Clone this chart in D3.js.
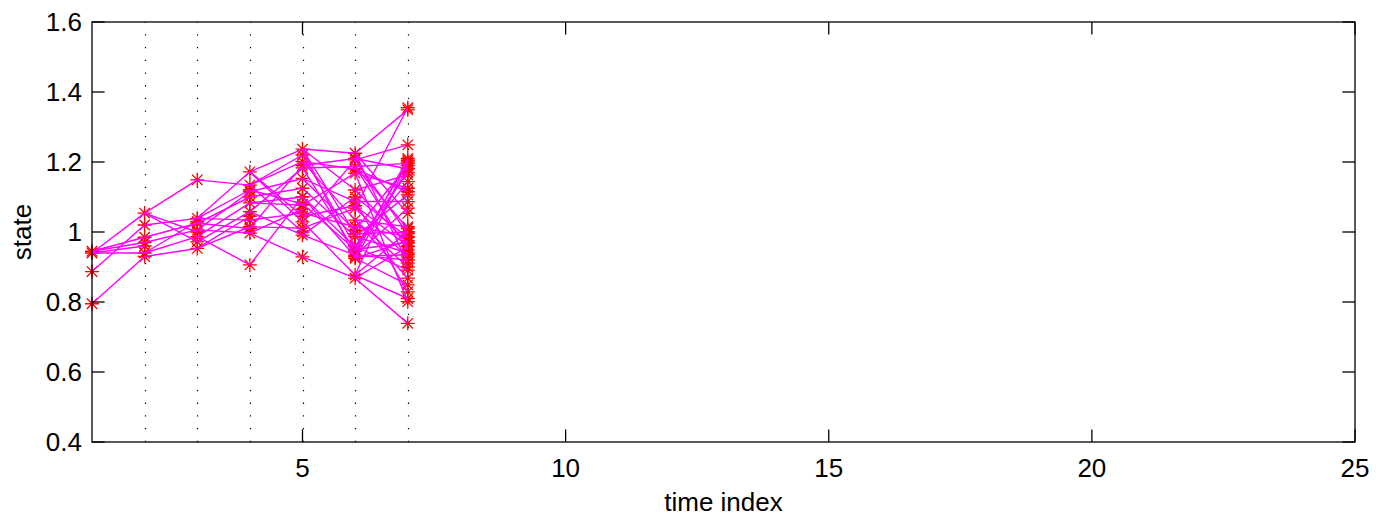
<!DOCTYPE html>
<html>
<head>
<meta charset="utf-8">
<script src="https://cdn.jsdelivr.net/npm/d3@7/dist/d3.min.js"></script>
<style>
html,body{margin:0;padding:0;background:#fff;}
svg{display:block;font-family:"Liberation Sans",Arial,sans-serif;}
</style>
</head>
<body>
<svg id="chart" width="1376" height="524"></svg>
<script>
// ---- data ----
const xTicks = [5, 10, 15, 20, 25];
const yTicks = [0.4, 0.6, 0.8, 1.0, 1.2, 1.4, 1.6];
const xLabel = "time index";
const yLabel = "state";
const guideTimes = [2, 3, 4, 5, 6, 7];

const t1Values = [0.945, 0.94, 0.887, 0.795];
const t2Values = [1.054, 1.02, 0.985, 0.97, 0.94, 0.93, 0.96];
const t2Parents = [1, 2, 0, 0, 1, 3, 1];
const t3Values = [1.149, 1.039, 1.025, 1.006, 0.987, 0.972, 0.953, 1.0, 1.03];
const t3Parents = [0, 1, 2, 3, 4, 0, 5, 0, 4];
const t4Values = [1.172, 1.134, 1.115, 1.1, 1.083, 1.058, 1.034, 1.015, 0.997, 0.906, 1.12, 1.045, 1.01];
const t4Parents = [1, 0, 3, 2, 4, 5, 1, 6, 3, 4, 1, 6, 2];
const t5Values = [1.237, 1.201, 1.183, 1.153, 1.125, 1.101, 1.077, 1.054, 1.029, 1.011, 0.991, 0.929,
                  1.22, 1.045, 1.1, 1.0, 1.065, 1.19, 1.08];
const t5Parents = [0, 1, 5, 2, 3, 9, 4, 6, 0, 7, 5, 8,
                   1, 0, 4, 1, 8, 12, 10];
const t6Values = [1.225, 1.206, 1.187, 1.168, 1.12, 1.087, 1.068, 1.034, 1.015, 0.987, 0.958, 0.934, 0.925, 0.877, 0.868,
                  1.18, 0.995, 0.945, 1.005, 1.1, 0.96, 1.075, 0.93, 1.21, 0.95];
const t6Parents = [0, 8, 2, 6, 0, 3, 9, 1, 7, 4, 5, 10, 0, 8, 11,
                   1, 0, 2, 3, 10, 12, 13, 14, 17, 18];
const t7Values = [1.355, 1.349, 1.249, 1.21, 1.196, 1.182, 1.163, 1.144, 1.125, 1.106, 1.087, 1.068, 1.053,
                  1.015, 1.001, 0.995, 0.987, 0.975, 0.968, 0.958, 0.949, 0.94, 0.929, 0.92, 0.911, 0.891,
                  0.868, 0.849, 0.829, 0.81, 0.801, 0.739,
                  1.2, 1.19, 1.17, 1.115, 1.0, 0.985, 0.96, 0.935, 1.205, 1.01, 0.9, 1.18, 0.97];
const t7Parents = [6, 0, 1, 11, 2, 12, 4, 10, 3, 9, 5, 11, 0,
                   7, 13, 1, 8, 12, 4, 14, 2, 9, 6, 11, 0, 10,
                   7, 12, 5, 13, 3, 14,
                   17, 18, 20, 15, 16, 19, 21, 22, 13, 2, 7, 23, 24];

const stepValues = [t1Values, t2Values, t3Values, t4Values, t5Values, t6Values, t7Values];
const stepParents = [null, t2Parents, t3Parents, t4Parents, t5Parents, t6Parents, t7Parents];

// ---- layout ----
const svg = d3.select("#chart");
const m = {left: 92, right: 1355, top: 22, bottom: 442};
const x = d3.scaleLinear().domain([1, 25]).range([m.left, m.right]);
const y = d3.scaleLinear().domain([0.4, 1.6]).range([m.bottom, m.top]);
const tickLen = 12.6;
const fontSize = 26;

// guide dotted lines
svg.append("g").selectAll("line").data(guideTimes).join("line")
  .attr("x1", d => Math.round(x(d)) + 0.5).attr("x2", d => Math.round(x(d)) + 0.5)
  .attr("y1", m.bottom).attr("y2", m.top)
  .attr("stroke", "#000").attr("stroke-width", 1.2)
  .attr("stroke-dasharray", "1.3,11.4");

// nodes and edges
const nodes = [];
const edges = [];
stepValues.forEach((vals, i) => {
  const t = i + 1;
  vals.forEach((v, j) => {
    nodes.push({t, v});
    if (i > 0) {
      const p = stepParents[i][j];
      edges.push({t0: t - 1, v0: stepValues[i - 1][p], t1: t, v1: v});
    }
  });
});

// markers (asterisk)
const r = 7, rd = 5.2;
const star = `M${-r},0H${r}M0,${-r}V${r}M${-rd},${-rd}L${rd},${rd}M${-rd},${rd}L${rd},${-rd}`;
svg.append("g").selectAll("path").data(nodes).join("path")
  .attr("transform", d => `translate(${x(d.t)},${y(d.v)})`)
  .attr("d", star)
  .attr("fill", "none").attr("stroke", "#ff0000").attr("stroke-width", 1.3);

// edges
svg.append("g").selectAll("line").data(edges).join("line")
  .attr("x1", d => x(d.t0)).attr("y1", d => y(d.v0))
  .attr("x2", d => x(d.t1)).attr("y2", d => y(d.v1))
  .attr("stroke", "#ff00ff").attr("stroke-width", 1.4);

// axes box
const axG = svg.append("g").attr("stroke", "#000").attr("stroke-width", 1.3).attr("fill", "none");
axG.append("rect").attr("x", m.left).attr("y", m.top)
  .attr("width", m.right - m.left).attr("height", m.bottom - m.top);

xTicks.forEach(t => {
  const px = x(t);
  axG.append("line").attr("x1", px).attr("x2", px).attr("y1", m.bottom).attr("y2", m.bottom - tickLen);
  axG.append("line").attr("x1", px).attr("x2", px).attr("y1", m.top).attr("y2", m.top + tickLen);
});
yTicks.forEach(t => {
  const py = y(t);
  axG.append("line").attr("x1", m.left).attr("x2", m.left + tickLen).attr("y1", py).attr("y2", py);
  axG.append("line").attr("x1", m.right).attr("x2", m.right - tickLen).attr("y1", py).attr("y2", py);
});

const fmt = d => d3.format("")(Math.round(d * 10) / 10);
svg.append("g").selectAll("text").data(xTicks).join("text")
  .attr("x", d => x(d)).attr("y", 477)
  .attr("text-anchor", "middle").attr("font-size", fontSize).attr("fill", "#000")
  .text(d => d);
svg.append("g").selectAll("text").data(yTicks).join("text")
  .attr("x", 82).attr("y", d => y(d)).attr("dy", "0.35em")
  .attr("text-anchor", "end").attr("font-size", fontSize).attr("fill", "#000")
  .text(fmt);

svg.append("text").attr("x", (m.left + m.right) / 2).attr("y", 511)
  .attr("text-anchor", "middle").attr("font-size", fontSize).attr("fill", "#000")
  .text(xLabel);
svg.append("text").attr("transform", `translate(31,${(m.top + m.bottom) / 2}) rotate(-90)`)
  .attr("text-anchor", "middle").attr("font-size", fontSize).attr("fill", "#000")
  .text(yLabel);
</script>
</body>
</html>
